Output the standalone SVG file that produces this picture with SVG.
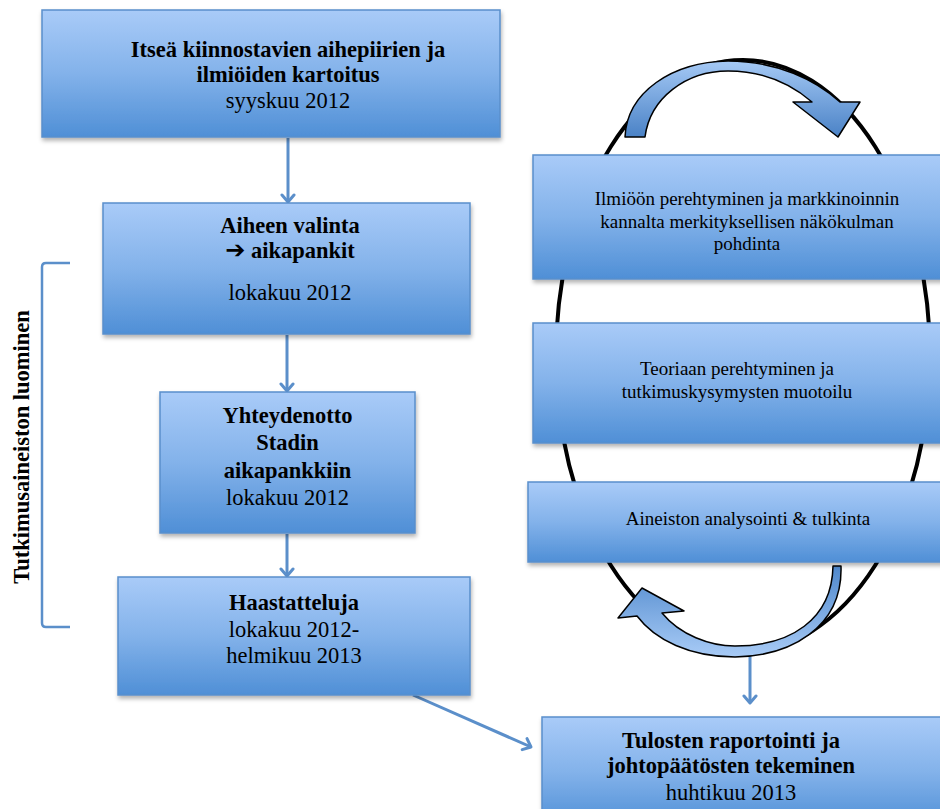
<svg xmlns="http://www.w3.org/2000/svg" width="940" height="809" viewBox="0 0 940 809">
<defs>
  <linearGradient id="boxg" x1="0" y1="0" x2="0" y2="1">
    <stop offset="0" stop-color="#a9cbf8"/>
    <stop offset="0.5" stop-color="#83b2ea"/>
    <stop offset="1" stop-color="#4f8fd6"/>
  </linearGradient>
  <linearGradient id="arrg1" x1="0" y1="0" x2="0" y2="1">
    <stop offset="0" stop-color="#a5c9f5"/>
    <stop offset="1" stop-color="#4a82c6"/>
  </linearGradient>
  <linearGradient id="arrg2" x1="0" y1="0" x2="0" y2="1">
    <stop offset="0" stop-color="#4f88cc"/>
    <stop offset="1" stop-color="#a8cbf6"/>
  </linearGradient>
  <filter id="sh" x="-5%" y="-5%" width="115%" height="125%">
    <feDropShadow dx="1" dy="3" stdDeviation="2" flood-color="#000" flood-opacity="0.3"/>
  </filter>
  <marker id="ah" markerWidth="14" markerHeight="16" refX="11" refY="8" orient="auto" markerUnits="userSpaceOnUse">
    <path d="M4,2 L11,8 L4,14" fill="none" stroke="#5b8fca" stroke-width="3" stroke-linecap="round" stroke-linejoin="round"/>
  </marker>
  <style>
    .box { fill: url(#boxg); stroke: #5a8fcb; stroke-width: 1.5; filter: url(#sh); }
    .b { font-family: "Liberation Serif", "Times New Roman", serif; font-weight: bold; font-size: 22.5px; fill: #000; text-anchor: middle; }
    .r { font-family: "Liberation Serif", "Times New Roman", serif; font-size: 22.5px; fill: #000; text-anchor: middle; }
    .s { font-family: "Liberation Serif", "Times New Roman", serif; font-size: 19px; fill: #000; text-anchor: middle; }
    .conn { stroke: #5b8fca; stroke-width: 3; fill: none; marker-end: url(#ah); }
    .cyc { stroke: #000; stroke-width: 1.5; stroke-linejoin: round; }
  </style>
</defs>

<rect width="940" height="809" fill="#fff"/>

<!-- cycle ellipse -->
<ellipse id="cycle" cx="743" cy="356" rx="187" ry="296" fill="none" stroke="#000" stroke-width="4"/>

<g id="connectors">
  <line class="conn" x1="288" y1="138" x2="288" y2="202"/>
  <line class="conn" x1="287" y1="335" x2="287" y2="391"/>
  <line class="conn" x1="287" y1="534" x2="287" y2="576"/>
  <line class="conn" x1="413" y1="695" x2="531" y2="747"/>
  <line class="conn" x1="750" y1="656" x2="750" y2="703"/>
  <path d="M70,263 L46,263 Q42,263 42,267 L42,623 Q42,627 46,627 L70,627" fill="none" stroke="#5b8fca" stroke-width="2.5"/>
</g>

<g id="node1">
  <rect class="box" x="42" y="10" width="458" height="127"/>
  <text class="b" x="288" y="57">Itseä kiinnostavien aihepiirien ja</text>
  <text class="b" x="288" y="82">ilmiöiden kartoitus</text>
  <text class="r" x="288" y="108">syyskuu 2012</text>
</g>

<g id="node2">
  <rect class="box" x="103" y="203" width="367" height="131"/>
  <text class="b" x="290" y="233">Aiheen valinta</text>
  <text class="b" x="290" y="258"><tspan font-family="DejaVu Sans, sans-serif" font-weight="bold" font-size="24px">➔</tspan> aikapankit</text>
  <text class="r" x="290" y="300">lokakuu 2012</text>
</g>

<g id="node3">
  <rect class="box" x="160" y="392" width="255" height="141"/>
  <text class="b" x="287.5" y="423">Yhteydenotto</text>
  <text class="b" x="287.5" y="450">Stadin</text>
  <text class="b" x="287.5" y="478">aikapankkiin</text>
  <text class="r" x="287.5" y="505">lokakuu 2012</text>
</g>

<g id="node4">
  <rect class="box" x="118" y="577" width="352" height="118"/>
  <text class="b" x="294" y="610">Haastatteluja</text>
  <text class="r" x="294" y="637">lokakuu 2012-</text>
  <text class="r" x="294" y="663">helmikuu 2013</text>
</g>

<g id="node5">
  <rect class="box" x="542" y="717" width="410" height="110"/>
  <text class="b" x="731" y="748">Tulosten raportointi ja</text>
  <text class="b" x="731" y="773">johtopäätösten tekeminen</text>
  <text class="r" x="731" y="800">huhtikuu 2013</text>
</g>

<g id="cycle-arrows">
  <path class="cyc" fill="url(#arrg1)" d="M625,137 C627,92 672,62 728,61 C777,61 816,80 840,102 L860,102 L838,137 L793,102 L812,102 C790,83 762,71 728,71 C686,71 650,98 645,137 Z"/>
  <path class="cyc" fill="url(#arrg2)" d="M841,566 C843,628 790,656 735,657 C690,657 655,640 637,616 L618,618 L642,588 L684,611 L662,613 C680,635 710,646 735,646 C790,646 832,620 833,566 Z"/>
</g>

<g id="nodeR1">
  <rect class="box" x="533" y="155" width="412" height="124"/>
  <text class="s" x="747" y="205">Ilmiöön perehtyminen ja markkinoinnin</text>
  <text class="s" x="747" y="228">kannalta merkityksellisen näkökulman</text>
  <text class="s" x="747" y="250">pohdinta</text>
</g>

<g id="nodeR2">
  <rect class="box" x="533" y="323" width="412" height="120"/>
  <text class="s" x="737" y="375">Teoriaan perehtyminen ja</text>
  <text class="s" x="737" y="398">tutkimuskysymysten muotoilu</text>
</g>

<g id="nodeR3">
  <rect class="box" x="528" y="482" width="417" height="80"/>
  <text class="s" x="748" y="525">Aineiston analysointi &amp; tulkinta</text>
</g>

<g id="label">
  <text class="b" transform="translate(29,447) rotate(-90)">Tutkimusaineiston luominen</text>
</g>
</svg>
